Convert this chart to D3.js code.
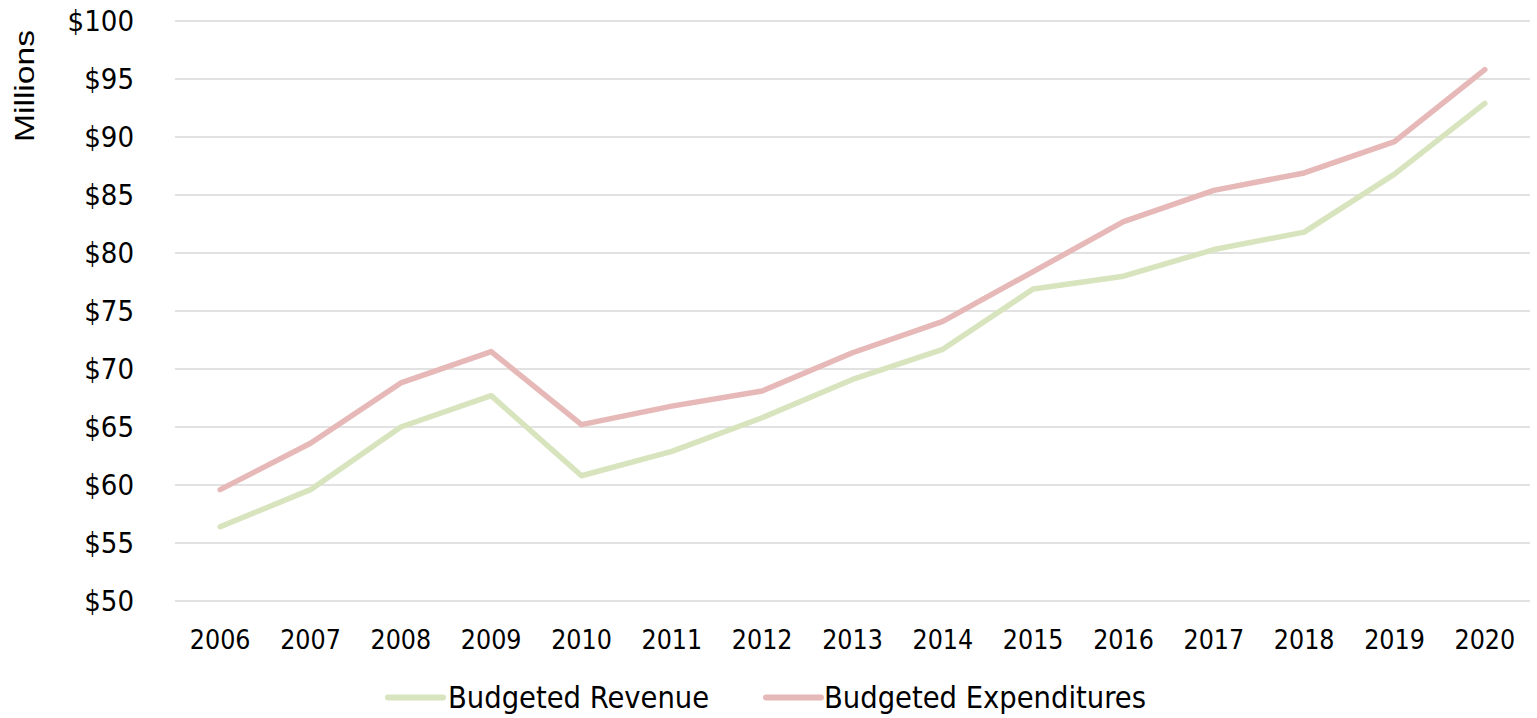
<!DOCTYPE html>
<html>
<head>
<meta charset="utf-8">
<script src="https://cdn.jsdelivr.net/npm/d3@7/dist/d3.min.js"></script>
<style>
  html, body { margin: 0; padding: 0; background: #ffffff; }
  svg { display: block; }
  .tick-y, .tick-x, .legend-text { font-family: "DejaVu Sans Condensed", "DejaVu Sans", sans-serif; fill: #000; }
</style>
</head>
<body>
<svg id="chart" width="1537" height="718"></svg>
<script>
// Fiscal years
const years = ["2006","2007","2008","2009","2010","2011","2012","2013","2014","2015","2016","2017","2018","2019","2020"];
// Budgeted revenue, $ millions
const revenue = [56.4, 59.6, 65.0, 67.7, 60.8, 62.9, 65.8, 69.1, 71.7, 76.9, 78.0, 80.3, 81.8, 86.8, 92.9];
// Budgeted expenditures, $ millions
const expenditures = [59.6, 63.6, 68.8, 71.5, 65.2, 66.8, 68.1, 71.4, 74.1, 78.4, 82.7, 85.4, 86.9, 89.6, 95.8];
// Y-axis ticks
const yTicks = [50, 55, 60, 65, 70, 75, 80, 85, 90, 95, 100];
// Legend entries
const seriesNames = ["Budgeted Revenue", "Budgeted Expenditures"];

const colors = ["#d7e4bd", "#e6b9b8"];

const svg = d3.select("#chart");

const x = d3.scaleBand().domain(years).range([175, 1530]).padding(0);
const y = d3.scaleLinear().domain([50, 100]).range([601, 21]);

// Horizontal gridlines
svg.append("g")
  .selectAll("line")
  .data(yTicks)
  .join("line")
  .attr("x1", 175)
  .attr("x2", 1530)
  .attr("y1", d => y(d))
  .attr("y2", d => y(d))
  .attr("stroke", "#d9d9d9")
  .attr("stroke-width", 1.4);

// Y tick labels
svg.append("g")
  .selectAll("text")
  .data(yTicks)
  .join("text")
  .attr("class", "tick-y")
  .attr("x", 134)
  .attr("y", d => y(d))
  .attr("dy", "0.36em")
  .attr("text-anchor", "end")
  .attr("font-size", 29)
  .text(d => "$" + d);

// X tick labels
svg.append("g")
  .selectAll("text")
  .data(years)
  .join("text")
  .attr("class", "tick-x")
  .attr("x", d => x(d) + x.bandwidth() / 2)
  .attr("y", 649)
  .attr("text-anchor", "middle")
  .attr("font-size", 26.5)
  .text(d => d);

// Y axis title
svg.append("text")
  .attr("transform", "translate(34,86) rotate(-90)")
  .attr("text-anchor", "middle")
  .attr("font-family", "Liberation Sans, Arial, sans-serif")
  .attr("font-size", 27.5)
  .attr("textLength", 112)
  .attr("lengthAdjust", "spacingAndGlyphs")
  .attr("fill", "#000")
  .text("Millions");

// Series lines
const line = d3.line()
  .x((d, i) => x(years[i]) + x.bandwidth() / 2)
  .y(d => y(d));

[revenue, expenditures].forEach((vals, k) => {
  svg.append("path")
    .datum(vals)
    .attr("fill", "none")
    .attr("stroke", colors[k])
    .attr("stroke-width", 5.5)
    .attr("stroke-linejoin", "round")
    .attr("stroke-linecap", "round")
    .attr("d", line);
});

// Legend
const legendItems = [
  { name: seriesNames[0], color: colors[0], x1: 388, x2: 443, tx: 448 },
  { name: seriesNames[1], color: colors[1], x1: 766, x2: 821, tx: 824 }
];
const lg = svg.append("g");
legendItems.forEach(it => {
  lg.append("line")
    .attr("x1", it.x1).attr("x2", it.x2)
    .attr("y1", 697.5).attr("y2", 697.5)
    .attr("stroke", it.color)
    .attr("stroke-width", 6)
    .attr("stroke-linecap", "round");
  lg.append("text")
    .attr("class", "legend-text")
    .attr("x", it.tx)
    .attr("y", 708)
    .attr("font-size", 30.5)
    .text(it.name);
});
</script>
</body>
</html>
